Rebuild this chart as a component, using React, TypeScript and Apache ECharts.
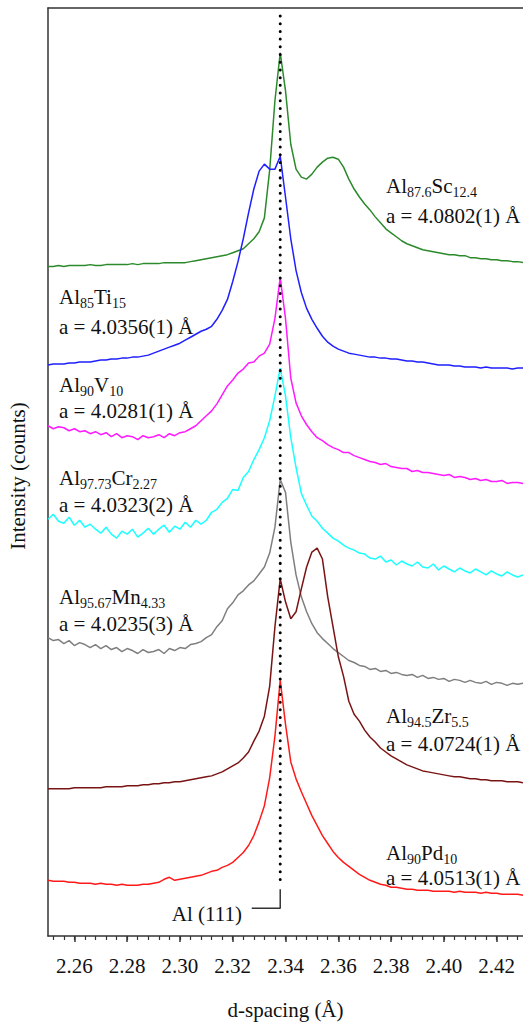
import React, { useEffect, useRef } from "react";
import * as echarts from "echarts";

// d-spacing grid (Å), one sample every 0.002 Å from 2.250 to 2.430
const dSpacing: number[] = Array.from({ length: 91 }, (_, i) => +(2.25 + i * 0.002).toFixed(3));

// Offset intensities (arbitrary counts), one value per dSpacing sample
const alSc = [
  673, 673, 674, 673, 674, 674, 674, 674, 675, 674,
  674, 675, 675, 675, 675, 675, 676, 675, 676, 676,
  676, 676, 677, 677, 677, 677, 677, 678, 679, 680,
  681, 682, 683, 684, 685, 687, 689, 691, 696, 701,
  708, 722, 770, 840, 888, 850, 796, 771, 763, 761,
  766, 773, 778, 782, 783, 781, 773, 761, 751, 743,
  736, 730, 723, 717, 711, 707, 703, 699, 696, 694,
  692, 690, 689, 688, 687, 686, 685, 685, 684, 684,
  682, 682, 681, 681, 680, 680, 679, 679, 678, 678, 677,
];
const alTi = [
  574, 575, 575, 575, 576, 576, 577, 577, 577, 578,
  579, 579, 580, 580, 581, 581, 582, 582, 583, 584,
  586, 588, 590, 592, 594, 596, 599, 602, 605, 608,
  610, 613, 620, 629, 640, 658, 678, 701, 727, 751,
  769, 776, 771, 771, 784, 743, 701, 669, 647, 631,
  620, 611, 603, 597, 593, 590, 588, 586, 585, 584,
  583, 582, 582, 581, 581, 580, 580, 579, 578, 578,
  577, 577, 576, 575, 574, 574, 574, 573, 573, 572,
  572, 572, 571, 572, 571, 571, 571, 571, 570, 571, 571,
];
const alV = [
  513, 510, 512, 511, 508, 510, 507, 508, 505, 507,
  504, 506, 502, 505, 501, 503, 502, 499, 503, 501,
  502, 504, 501, 505, 503, 506, 507, 510, 513, 518,
  523, 528, 535, 544, 553, 559, 566, 570, 576, 577,
  583, 586, 595, 621, 662, 621, 561, 536, 523, 514,
  507, 501, 498, 494, 491, 489, 486, 486, 483, 481,
  479, 477, 476, 474, 475, 472, 471, 470, 470, 467,
  468, 466, 466, 465, 464, 463, 464, 461, 462, 461,
  459, 460, 458, 459, 457, 457, 458, 455, 456, 456, 455,
];
const alCr = [
  419, 424, 417, 415, 421, 413, 418, 411, 414, 409,
  405, 411, 404, 400, 407, 404, 409, 401, 405, 410,
  404, 409, 413, 406, 412, 409, 416, 411, 418, 414,
  418, 426, 429, 436, 440, 449, 448, 461, 467, 479,
  489, 501, 518, 543, 571, 543, 501, 471, 445, 433,
  422, 417, 410, 405, 400, 397, 393, 390, 388, 385,
  384, 380, 379, 382, 376, 378, 373, 377, 374, 372,
  376, 371, 370, 374, 368, 372, 369, 366, 370, 367,
  365, 369, 366, 363, 367, 364, 362, 366, 363, 361, 363,
];
const alMn = [
  300, 297, 298, 294, 297, 292, 295, 293, 290, 293,
  289, 292, 288, 290, 286, 289, 287, 284, 288, 285,
  286, 288, 284, 289, 287, 290, 289, 293, 294, 296,
  300, 303, 311, 317, 329, 335, 343, 347, 353, 357,
  364, 371, 385, 411, 459, 446, 396, 363, 341, 326,
  314, 305, 299, 294, 289, 285, 281, 277, 275, 272,
  271, 268, 269, 266, 267, 264, 265, 263, 262, 263,
  260, 262, 259, 260, 258, 259, 256, 258, 257, 255,
  257, 255, 254, 256, 253, 255, 254, 252, 254, 253, 254,
];
const alZr = [
  148, 148, 148, 148, 148, 149, 149, 149, 149, 149,
  149, 150, 150, 150, 150, 151, 151, 151, 152, 152,
  153, 153, 154, 154, 155, 155, 156, 157, 158, 159,
  160, 161, 163, 165, 168, 171, 174, 179, 185, 196,
  206, 221, 251, 311, 359, 336, 319, 326, 349, 371,
  386, 390, 379, 341, 311, 281, 261, 236, 223, 216,
  207, 200, 195, 189, 185, 181, 178, 175, 172, 170,
  168, 166, 165, 164, 163, 162, 161, 160, 160, 159,
  158, 158, 157, 157, 156, 156, 156, 155, 155, 155, 154,
];
const alPd = [
  56, 55, 55, 55, 54, 54, 53, 53, 53, 52,
  53, 52, 52, 51, 52, 51, 51, 51, 52, 52,
  53, 54, 57, 59, 56, 57, 58, 59, 60, 61,
  63, 65, 66, 69, 71, 74, 79, 84, 91, 101,
  115, 131, 159, 201, 257, 213, 175, 158, 145, 133,
  121, 111, 101, 93, 85, 79, 74, 70, 66, 62,
  59, 56, 54, 52, 51, 49, 49, 48, 47, 47,
  46, 46, 46, 45, 45, 45, 45, 44, 45, 44,
  44, 44, 43, 44, 43, 43, 42, 42, 42, 42, 41,
];

// Al (111) reference line and its bracket
const al111D = 2.338;
const al111Line = [[al111D, 925], [al111D, 51]];
const al111Bracket = [[al111D, 47], [al111D, 28], [2.3272, 28]];

// Axis ticks
const xMajorTicks = [2.26, 2.28, 2.3, 2.32, 2.34, 2.36, 2.38, 2.4, 2.42];
const xMinorTicks = Array.from({ length: 45 }, (_, k) => +(2.252 + 0.004 * k).toFixed(3));

const SERIF = "Liberation Serif";
const INK = "#111";
const AXIS = "#333";
const MAIN_SIZE = 21;
const SUB_SIZE = 14;

const curves = [
  { name: "Al87.6Sc12.4", data: alSc, color: "#2b8a2b" },
  { name: "Al85Ti15", data: alTi, color: "#1f1fff" },
  { name: "Al90V10", data: alV, color: "#ff1aff" },
  { name: "Al97.73Cr2.27", data: alCr, color: "#1affff" },
  { name: "Al95.67Mn4.33", data: alMn, color: "#7f7f7f" },
  { name: "Al94.5Zr5.5", data: alZr, color: "#7a1414" },
  { name: "Al90Pd10", data: alPd, color: "#ff1a1a" },
];

// formula pieces: [text, isSubscript]
const labels = [
  { parts: [["Al", 0], ["87.6", 1], ["Sc", 0], ["12.4", 1]], param: "a = 4.0802(1) Å", x: 386, y1: 186, y2: 216 },
  { parts: [["Al", 0], ["85", 1], ["Ti", 0], ["15", 1]], param: "a = 4.0356(1) Å", x: 59, y1: 297, y2: 327 },
  { parts: [["Al", 0], ["90", 1], ["V", 0], ["10", 1]], param: "a = 4.0281(1) Å", x: 59, y1: 385, y2: 411 },
  { parts: [["Al", 0], ["97.73", 1], ["Cr", 0], ["2.27", 1]], param: "a = 4.0323(2) Å", x: 59, y1: 478, y2: 505 },
  { parts: [["Al", 0], ["95.67", 1], ["Mn", 0], ["4.33", 1]], param: "a = 4.0235(3) Å", x: 59, y1: 597, y2: 624 },
  { parts: [["Al", 0], ["94.5", 1], ["Zr", 0], ["5.5", 1]], param: "a = 4.0724(1) Å", x: 386, y1: 716, y2: 744 },
  { parts: [["Al", 0], ["90", 1], ["Pd", 0], ["10", 1]], param: "a = 4.0513(1) Å", x: 386, y1: 853, y2: 878 },
];

export default function App() {
  const ref = useRef<HTMLDivElement>(null);
  useEffect(() => {
    document.body.style.margin = "0";
    const chart = echarts.init(ref.current!, null, { renderer: "svg" });
    const ctx = document.createElement("canvas").getContext("2d")!;
    const measure = (t: string, size: number) => {
      ctx.font = `${size}px ${SERIF}`;
      return ctx.measureText(t).width;
    };
    const textStyle = (text: string, size: number, align = "left") => ({
      text,
      fontSize: size,
      fontFamily: SERIF,
      fill: INK,
      align,
      verticalAlign: "middle",
    });
    const graphics: any[] = [];
    labels.forEach((l) => {
      let x = l.x;
      l.parts.forEach(([t, sub]) => {
        const size = sub ? SUB_SIZE : MAIN_SIZE;
        graphics.push({
          type: "text",
          x,
          y: sub ? l.y1 + 6 : l.y1,
          style: textStyle(t as string, size),
        });
        x += measure(t as string, size);
      });
      graphics.push({ type: "text", x: l.x, y: l.y2, style: textStyle(l.param, MAIN_SIZE) });
    });
    graphics.push({ type: "text", x: 242, y: 914, style: textStyle("Al (111)", MAIN_SIZE, "right") });
    // y-axis title
    graphics.push({
      type: "text",
      x: 18,
      y: 476,
      rotation: Math.PI / 2,
      style: textStyle("Intensity (counts)", MAIN_SIZE, "center"),
    });

    const xBase = { type: "value", min: 2.25, max: 2.43, gridIndex: 0, splitLine: { show: false } };
    chart.setOption({
      animation: false,
      backgroundColor: "#ffffff",
      textStyle: { fontFamily: SERIF },
      grid: { left: 48, right: 0, top: 8, bottom: 84, containLabel: false },
      xAxis: [
        {
          ...xBase,
          position: "bottom",
          axisLine: { show: true, onZero: false, lineStyle: { color: AXIS, width: 1.5 } },
          axisTick: { show: true, customValues: xMajorTicks, length: 6, lineStyle: { color: AXIS, width: 1.5 } },
          axisLabel: {
            show: true,
            customValues: xMajorTicks,
            formatter: (v: number) => v.toFixed(2),
            margin: 19,
            fontSize: MAIN_SIZE,
            fontFamily: SERIF,
            color: INK,
          },
          name: "d-spacing (Å)",
          nameLocation: "middle",
          nameGap: 63,
          nameTextStyle: { fontSize: MAIN_SIZE, fontFamily: SERIF, color: INK },
        },
        {
          ...xBase,
          position: "bottom",
          axisLine: { show: false, onZero: false },
          axisTick: { show: true, customValues: xMinorTicks, length: 4, lineStyle: { color: AXIS, width: 1.2 } },
          axisLabel: { show: false },
        },
        {
          ...xBase,
          position: "top",
          axisLine: { show: true, onZero: false, lineStyle: { color: AXIS, width: 1.5 } },
          axisTick: { show: false },
          axisLabel: { show: false },
        },
      ],
      yAxis: {
        type: "value",
        min: 0,
        max: 933,
        axisLine: { show: true, onZero: false, lineStyle: { color: AXIS, width: 1.5 } },
        axisTick: { show: false },
        axisLabel: { show: false },
        splitLine: { show: false },
      },
      series: [
        ...curves.map((c) => ({
          type: "line",
          name: c.name,
          xAxisIndex: 0,
          data: dSpacing.map((d, i) => [d, c.data[i]]),
          showSymbol: false,
          symbol: "none",
          silent: true,
          lineStyle: { color: c.color, width: 1.5 },
        })),
        {
          type: "line",
          name: "Al (111) marker",
          xAxisIndex: 0,
          data: al111Line,
          showSymbol: false,
          symbol: "none",
          lineStyle: { color: "#000", width: 3, type: [0.01, 7.7], cap: "round" },
          z: 5,
        },
        {
          type: "line",
          name: "Al (111) bracket",
          xAxisIndex: 0,
          data: al111Bracket,
          showSymbol: false,
          symbol: "none",
          lineStyle: { color: AXIS, width: 1.5 },
          z: 5,
        },
      ],
      graphic: graphics,
    });
    return () => chart.dispose();
  }, []);
  return (
    <div
      ref={ref}
      style={{ position: "absolute", left: 0, top: 0, width: 523, height: 1025 }}
    />
  );
}
